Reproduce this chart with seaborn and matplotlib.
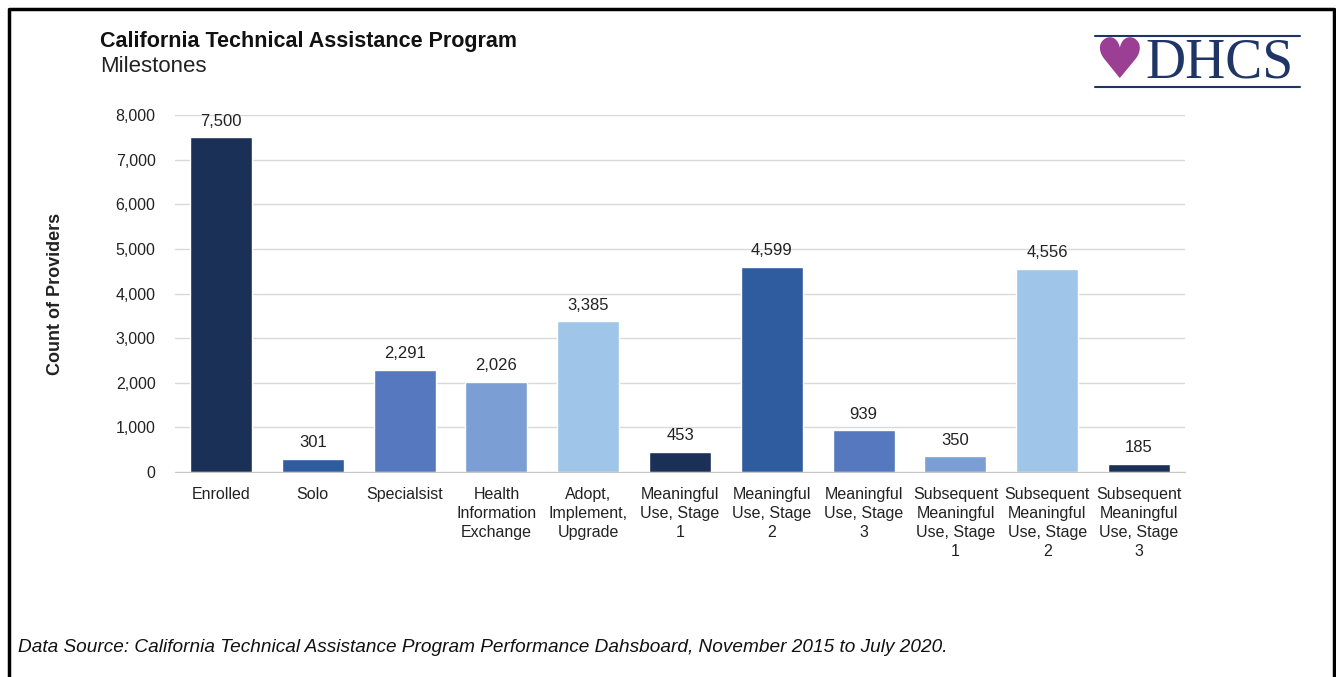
import matplotlib
matplotlib.use("Agg")
import matplotlib.pyplot as plt
import seaborn as sns
import pandas as pd
from matplotlib.ticker import FuncFormatter

milestones = ["Enrolled", "Solo", "Specialsist", "Health\nInformation\nExchange",
              "Adopt,\nImplement,\nUpgrade", "Meaningful\nUse, Stage\n1",
              "Meaningful\nUse, Stage\n2", "Meaningful\nUse, Stage\n3",
              "Subsequent\nMeaningful\nUse, Stage\n1", "Subsequent\nMeaningful\nUse, Stage\n2",
              "Subsequent\nMeaningful\nUse, Stage\n3"]
providers = [7500, 301, 2291, 2026, 3385, 453, 4599, 939, 350, 4556, 185]
bar_colors = ["#1a3057", "#2e5c9e", "#5578bf", "#7b9fd4", "#9fc5e8",
              "#1a3057", "#2e5c9e", "#5578bf", "#7b9fd4", "#9fc5e8", "#1a3057"]

df = pd.DataFrame({"Milestone": milestones, "Providers": providers})

sns.set_style("white")
plt.rcParams['font.family'] = ['Liberation Sans', 'DejaVu Sans']

fig = plt.figure(figsize=(13.36, 6.77), dpi=100)
ax = fig.add_axes([0.131, 0.3028, 0.756, 0.5272])

sns.barplot(data=df, x="Milestone", y="Providers", hue="Milestone", palette=bar_colors,
            width=0.675, dodge=False, legend=False, ax=ax, saturation=1)

for c in ax.containers:
    ax.bar_label(c, labels=[f"{v:,.0f}" for v in c.datavalues], padding=6,
                 fontsize=12, color="#222222")

ax.set_xlim(-0.5, 10.5)
ax.set_ylim(0, 8000)
ax.set_yticks(range(0, 8001, 1000))
ax.yaxis.set_major_formatter(FuncFormatter(lambda v, p: f"{v:,.0f}"))
ax.grid(axis="y", color="#d9d9d9", lw=1)
ax.set_axisbelow(True)
for s in ["top", "right", "left"]:
    ax.spines[s].set_visible(False)
ax.spines["bottom"].set_color("#c8c8c8")
ax.tick_params(axis="y", length=0, pad=14, labelsize=11.5, labelcolor="#222222")
ax.tick_params(axis="x", length=0, pad=11, labelsize=11.5, labelcolor="#222222")
for t in ax.get_xticklabels():
    t.set_multialignment("center")
    t.set_verticalalignment("top")
    t.set_linespacing(1.32)
ax.set_xlabel("")
ax.set_ylabel("Count of Providers", fontsize=13, fontweight="bold", color="#222222", labelpad=37)

# titles
fig.text(100 / 1336, 1 - 41 / 677, "California Technical Assistance Program",
         fontsize=15.5, fontweight="bold", va="center", color="#111111")
fig.text(100 / 1336, 1 - 67 / 677, "Milestones", fontsize=16, va="center", color="#222222")
fig.text(18 / 1336, 1 - 648 / 677,
         "Data Source: California Technical Assistance Program Performance Dahsboard, November 2015 to July 2020.",
         fontsize=13.7, style="italic", va="center", color="#111111")

# logo
navy = "#1f3566"
fig.add_artist(plt.Line2D([1095 / 1336, 1300 / 1336], [1 - 36 / 677] * 2, color=navy, lw=1.5))
fig.add_artist(plt.Line2D([1095 / 1336, 1300 / 1336], [1 - 87 / 677] * 2, color=navy, lw=1.5))
fig.text(1094 / 1336, 1 - 63 / 677, "\u2665", fontsize=40, color="#9b3f95", va="center",
         family="DejaVu Sans")
fig.text(1145 / 1336, 1 - 63 / 677, "DHCS", fontsize=40, color=navy, va="center",
         family="Liberation Serif")

# frame
fig.add_artist(plt.Line2D([9 / 1336, 9 / 1336, 1334 / 1336, 1334 / 1336],
                          [0, 1 - 9 / 677, 1 - 9 / 677, 0], color="black", lw=2.5))

fig.savefig("out.png", dpi=100)
